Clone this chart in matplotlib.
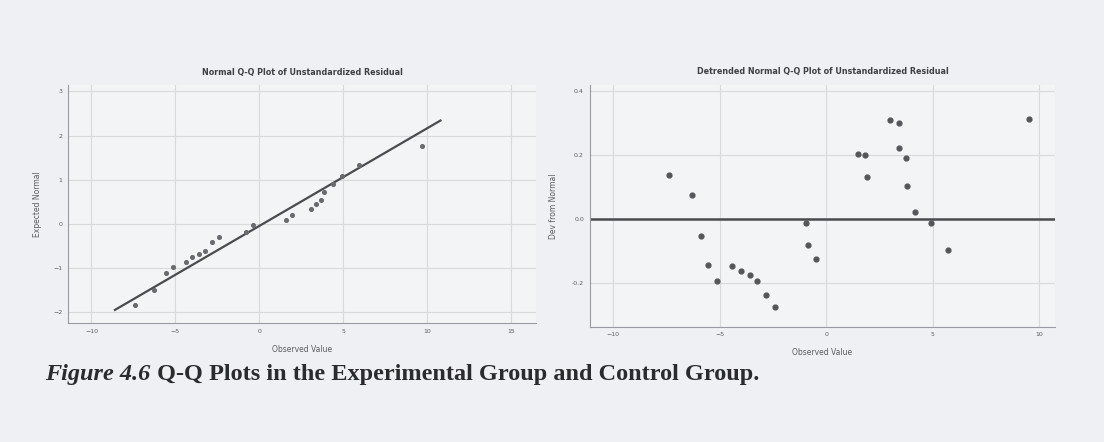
import matplotlib
matplotlib.use("Agg")
import matplotlib.pyplot as plt

# ---- data ----
qq_observed = [-7.40, -6.25, -5.56, -5.16, -4.37, -4.01, -3.61, -3.21, -2.82, -2.38,
               -0.79, -0.40, 1.59, 1.98, 3.08, 3.37, 3.67, 3.87, 4.37, 4.96, 5.95, 9.72]
qq_expected = [-1.86, -1.51, -1.13, -0.98, -0.87, -0.75, -0.68, -0.62, -0.42, -0.30,
               -0.19, -0.04, 0.08, 0.19, 0.34, 0.45, 0.53, 0.72, 0.89, 1.09, 1.32, 1.77]
qq_line_x = [-8.6, 10.8]
qq_line_y = [-1.96, 2.34]

dt_observed = [-7.39, -6.28, -5.89, -5.53, -5.13, -4.41, -3.98, -3.57, -3.24, -2.83, -2.41,
               -0.93, -0.87, -0.50, 1.48, 1.81, 1.89, 3.01, 3.40, 3.43, 3.73, 3.78, 4.16,
               4.93, 5.70, 9.50]
dt_deviation = [0.139, 0.074, -0.053, -0.143, -0.194, -0.146, -0.164, -0.175, -0.195, -0.239,
                -0.275, -0.013, -0.082, -0.125, 0.204, 0.200, 0.133, 0.311, 0.302, 0.223,
                0.192, 0.102, 0.022, -0.013, -0.098, 0.314]

left_xticks = [-10, -5, 0, 5, 10, 15]
left_yticks = [-2, -1, 0, 1, 2, 3]
right_xticks = [-10, -5, 0, 5, 10]
right_yticks = [-0.2, 0.0, 0.2, 0.4]
right_yticklabels = ["-0.2", "0.0", "0.2", "0.4"]

left_title = "Normal Q-Q Plot of Unstandardized Residual"
right_title = "Detrended Normal Q-Q Plot of Unstandardized Residual"
caption_italic = "Figure 4.6"
caption_rest = " Q-Q Plots in the Experimental Group and Control Group."

BG = "#eef0f3"
TXT = "#5a5c60"
GRID = "#d8d9dc"
MARK = "#555659"

fig = plt.figure(figsize=(11.04, 4.42), dpi=100, facecolor=BG)

def style(ax):
    ax.set_facecolor("#f3f4f6")
    for s in ["top", "right"]:
        ax.spines[s].set_visible(False)
    for s in ["left", "bottom"]:
        ax.spines[s].set_color("#9a9ba0")
        ax.spines[s].set_linewidth(0.8)
    ax.tick_params(length=0, labelsize=4.5, colors=TXT, pad=4)
    ax.grid(True, color=GRID, linewidth=0.8)
    ax.set_axisbelow(True)

# left panel
ax1 = fig.add_axes([0.0616, 0.269, 0.424, 0.539])
style(ax1)
ax1.set_xlim(-11.4, 16.5)
ax1.set_ylim(-2.26, 3.15)
ax1.set_xticks(left_xticks)
ax1.set_yticks(left_yticks)
ax1.plot(qq_line_x, qq_line_y, color="#4a4b4e", linewidth=1.6)
ax1.scatter(qq_observed, qq_expected, s=7, color="#6a6b6f", zorder=3)
ax1.set_title(left_title, fontsize=5.8, color="#3f4044", pad=7, fontweight="bold")
ax1.set_xlabel("Observed Value", fontsize=5.5, color=TXT, labelpad=8)
ax1.set_ylabel("Expected Normal", fontsize=5.5, color=TXT, labelpad=8)

# right panel
ax2 = fig.add_axes([0.534, 0.261, 0.422, 0.547])
style(ax2)
ax2.set_xlim(-11.1, 10.75)
ax2.set_ylim(-0.337, 0.42)
ax2.set_xticks(right_xticks)
ax2.set_yticks(right_yticks)
ax2.set_yticklabels(right_yticklabels)
ax2.axhline(0, color="#4a4b4e", linewidth=1.8)
ax2.scatter(dt_observed, dt_deviation, s=12, color=MARK, zorder=3)
ax2.set_title(right_title, fontsize=5.8, color="#3f4044", pad=8, fontweight="bold")
ax2.set_xlabel("Observed Value", fontsize=5.5, color=TXT, labelpad=8)
ax2.set_ylabel("Dev from Normal", fontsize=5.5, color=TXT, labelpad=10)

# caption
t1 = fig.text(0.041, 0.14, caption_italic, fontsize=17.5, fontweight="bold",
              fontstyle="italic", family="Liberation Serif", color="#2b2b2e")
fig.canvas.draw()
bb = t1.get_window_extent()
fig.text(bb.x1 / fig.bbox.width, 0.14, caption_rest, fontsize=17.5, fontweight="bold",
         family="Liberation Serif", color="#2b2b2e")

fig.savefig("out.png", dpi=100, facecolor=BG)
